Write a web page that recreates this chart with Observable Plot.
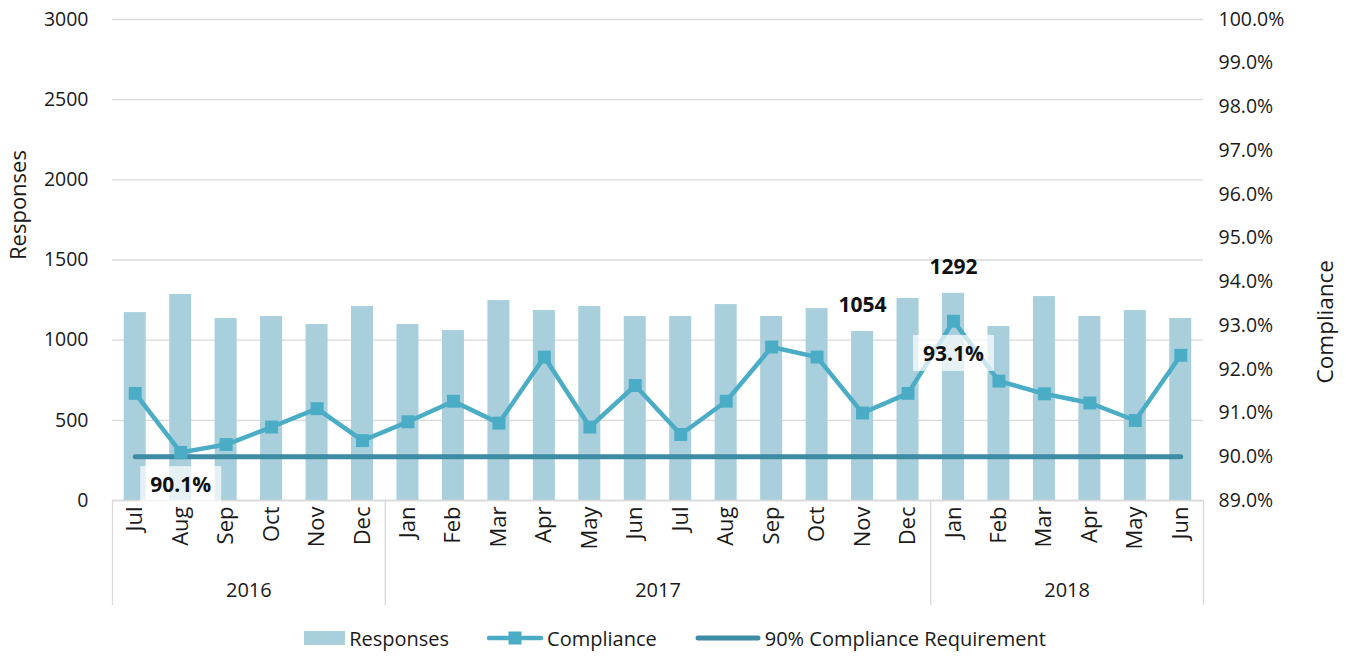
<!DOCTYPE html>
<html>
<head>
<meta charset="utf-8">
<script src="https://cdn.jsdelivr.net/npm/d3@7"></script>
<script src="https://cdn.jsdelivr.net/npm/@observablehq/plot@0.6"></script>
<style>
  body { margin: 0; background: #fff; font-family: "Open Sans", sans-serif; }
  #legend { display: flex; justify-content: center; align-items: center; gap: 38px; height: 36px; font-size: 20px; color: #1a1a1a; }
  #legend .item { display: flex; align-items: center; gap: 4px; }
  #legend svg { display: block; }
</style>
</head>
<body>
<div id="chart"></div>
<div id="legend"></div>
<script>
// ---- data ----
const months = ["Jul","Aug","Sep","Oct","Nov","Dec",
  "Jan","Feb","Mar","Apr","May","Jun","Jul","Aug","Sep","Oct","Nov","Dec",
  "Jan","Feb","Mar","Apr","May","Jun"];
const years = ["2016","2016","2016","2016","2016","2016",
  "2017","2017","2017","2017","2017","2017","2017","2017","2017","2017","2017","2017",
  "2018","2018","2018","2018","2018","2018"];
const responses = [1172, 1285, 1135, 1148, 1098, 1210,
  1098, 1060, 1247, 1185, 1210, 1148, 1148, 1222, 1148, 1197, 1054, 1260,
  1292, 1085, 1272, 1148, 1185, 1135];
const compliance = [91.45, 90.1, 90.28, 90.68, 91.1, 90.37,
  90.8, 91.27, 90.77, 92.28, 90.68, 91.63, 90.51, 91.27, 92.51, 92.28, 91.0, 91.45,
  93.1, 91.73, 91.44, 91.23, 90.83, 92.32];
const requirement = 90;
const responseTicks = [0, 500, 1000, 1500, 2000, 2500, 3000];
const complianceTicks = [89, 90, 91, 92, 93, 94, 95, 96, 97, 98, 99, 100];
const responseLabelIdx = [16, 18];   // Nov 2017, Jan 2018
const complianceLabelIdx = [1, 18];  // Aug 2016, Jan 2018

// secondary axis mapping (89%..100% onto 0..3000)
const cMin = 89, cMax = 100, rMax = 3000;
const toY = p => (p - cMin) / (cMax - cMin) * rMax;
const fromY = v => cMin + v / rMax * (cMax - cMin);

const rows = months.map((m, i) => ({
  i, month: m, year: years[i], responses: responses[i], compliance: compliance[i]
}));
const yearGroups = d3.groups(rows, d => d.year).map(([year, g]) => ({
  year, start: g[0].i, end: g[g.length - 1].i + 1
}));
const separators = [0, ...yearGroups.map(g => g.end)];

const barHalf = 0.242;
const ink = "#1a1a1a";
const font = "'Open Sans', sans-serif";

const chart = Plot.plot({
  width: 1350,
  height: 620,
  marginLeft: 112,
  marginRight: 147,
  marginTop: 19,
  marginBottom: 120,
  style: { fontFamily: font, fontSize: "19.5px", color: ink, background: "#fff" },
  x: { type: "linear", domain: [0, months.length], axis: null },
  y: { domain: [0, rMax], axis: null },
  marks: [
    Plot.gridY(responseTicks, { stroke: "#d9d9d9", strokeOpacity: 1, strokeWidth: 1.3 }),
    Plot.rectY(rows, { x1: d => d.i + 0.5 - barHalf, x2: d => d.i + 0.5 + barHalf, y: "responses", fill: "#a9cfdc" }),
    Plot.ruleY([0], { stroke: "#d9d9d9", strokeWidth: 1.3 }),
    Plot.ruleX(separators, { y1: 0, y2: 0, insetBottom: -105, stroke: "#d9d9d9", strokeWidth: 1.3 }),
    Plot.line(rows, { x: d => d.i + 0.5, y: () => toY(requirement), stroke: "#3d8ca3", strokeWidth: 5, strokeLinecap: "round" }),
    Plot.line(rows, { x: d => d.i + 0.5, y: d => toY(d.compliance), stroke: "#4bacc6", strokeWidth: 4.5, strokeLinejoin: "miter" }),
    Plot.dot(rows, { x: d => d.i + 0.5, y: d => toY(d.compliance), symbol: "square", r: 7.3, fill: "#4bacc6", stroke: null }),
    // data labels
    Plot.text(rows.filter(d => complianceLabelIdx.includes(d.i)), {
      x: d => d.i + 0.5, y: d => toY(d.compliance), text: d => d.compliance.toFixed(1) + "%",
      dy: 33, fontWeight: "bold", fontSize: 21, fill: "#111"
    }),
    Plot.text(rows.filter(d => responseLabelIdx.includes(d.i)), {
      x: d => d.i + 0.5, y: "responses", text: d => String(d.responses),
      dy: -26, fontWeight: "bold", fontSize: 21, fill: "#111"
    }),
    // left axis
    Plot.axisY(responseTicks, { anchor: "left", tickSize: 0, tickPadding: 24, fontSize: 19.5, color: ink, label: null, tickFormat: d => String(d) }),
    // right axis (compliance)
    Plot.axisY(complianceTicks.map(toY), { anchor: "right", tickSize: 0, tickPadding: 15, fontSize: 19.5, color: ink, label: null,
      tickFormat: v => fromY(v).toFixed(1) + "%" }),
    // month labels
    Plot.text(rows, { x: d => d.i + 0.5, y: 0, text: "month", rotate: -90, textAnchor: "end", lineAnchor: "middle", dy: 6, fontSize: 22, fill: ink }),
    // year labels
    Plot.text(yearGroups, { x: d => (d.start + d.end) / 2, y: 0, text: "year", dy: 90, lineAnchor: "middle", fontSize: 20, fill: ink }),
    // axis titles
    Plot.text(["Responses"], { frameAnchor: "left", dx: -94, rotate: -90, fontSize: 22, fill: ink }),
    Plot.text(["Compliance"], { frameAnchor: "right", dx: 122, rotate: -90, fontSize: 22.5, fill: ink })
  ]
});
document.getElementById("chart").appendChild(chart);

// translucent boxes behind the percentage labels
const svgNS = "http://www.w3.org/2000/svg";
const pctStrings = new Set(complianceLabelIdx.map(i => compliance[i].toFixed(1) + "%"));
chart.querySelectorAll("text").forEach(t => {
  const g = t.parentNode;
  if (!pctStrings.has(t.textContent)) return;
  if (g.getAttribute("font-weight") !== "bold" && t.getAttribute("font-weight") !== "bold") return;
  const b = t.getBBox();
  const r = document.createElementNS(svgNS, "rect");
  r.setAttribute("x", b.x - 10);
  r.setAttribute("y", b.y - 4);
  r.setAttribute("width", b.width + 20);
  r.setAttribute("height", b.height + 8);
  r.setAttribute("fill", "#fff");
  r.setAttribute("fill-opacity", 0.7);
  if (t.getAttribute("transform")) r.setAttribute("transform", t.getAttribute("transform"));
  g.insertBefore(r, t);
});

// legend
const legendItems = [
  { label: "Responses", svg: '<svg width="41" height="16"><rect x="0" y="1" width="41" height="14" fill="#a9cfdc"/></svg>' },
  { label: "Compliance", svg: '<svg width="56" height="16"><line x1="2" y1="8" x2="54" y2="8" stroke="#4bacc6" stroke-width="4.5" stroke-linecap="round"/><rect x="21.5" y="1.5" width="13" height="13" fill="#4bacc6"/></svg>' },
  { label: "90% Compliance Requirement", svg: '<svg width="66" height="16"><line x1="3" y1="8" x2="63" y2="8" stroke="#3d8ca3" stroke-width="5" stroke-linecap="round"/></svg>' }
];
const legend = d3.select("#legend");
legendItems.forEach(it => {
  const d = legend.append("div").attr("class", "item");
  d.html(it.svg);
  d.append("span").text(it.label);
});
</script>
</body>
</html>
